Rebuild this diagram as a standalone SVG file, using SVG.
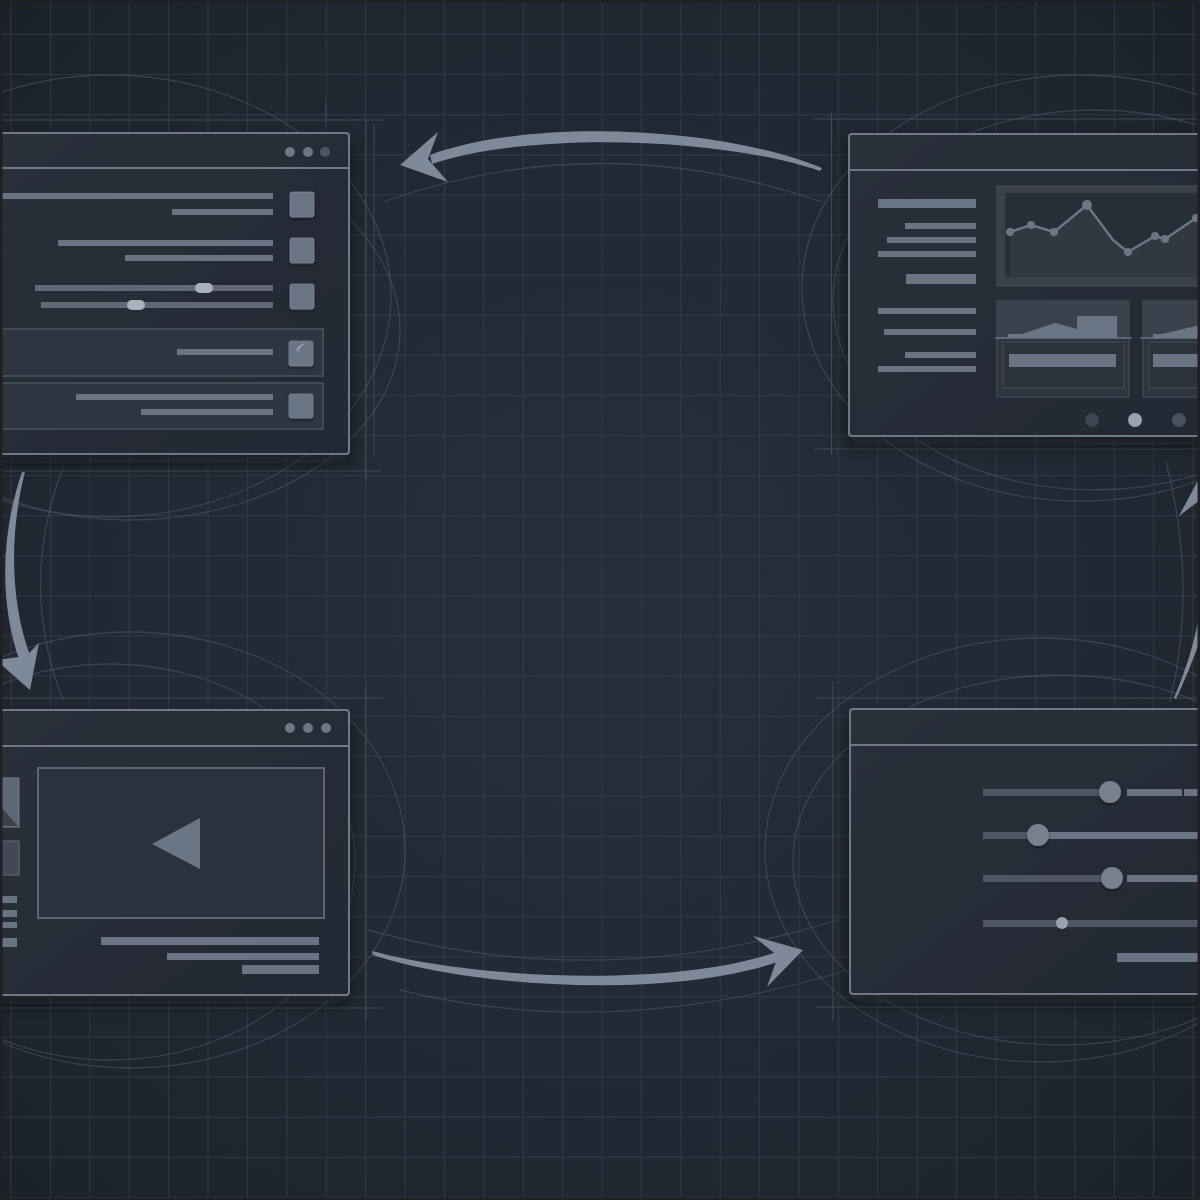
<svg xmlns="http://www.w3.org/2000/svg" width="1200" height="1200" viewBox="0 0 1200 1200">
<defs>
<radialGradient id="bg" cx="0.5" cy="0.5" r="0.75">
<stop offset="0" stop-color="#272e3a"/>
<stop offset="0.6" stop-color="#222833"/>
<stop offset="1" stop-color="#1a1f28"/>
</radialGradient>
<pattern id="grid" patternUnits="userSpaceOnUse" x="10.5" y="34" width="39.4" height="40.1">
<path d="M0 0.5H39.4M0.5 0V40.1" stroke="#3a4453" stroke-width="1" fill="none" opacity="0.65"/>
</pattern>
<linearGradient id="panelFill" x1="0" y1="0" x2="1" y2="1">
<stop offset="0" stop-color="#2a303b"/>
<stop offset="1" stop-color="#232934"/>
</linearGradient>
<filter id="shadow" x="-20%" y="-20%" width="140%" height="150%">
<feDropShadow dx="0" dy="8" stdDeviation="9" flood-color="#0b0e13" flood-opacity="0.6"/>
</filter>
<filter id="small" x="-30%" y="-30%" width="160%" height="170%">
<feDropShadow dx="0" dy="1.5" stdDeviation="1.2" flood-color="#0b0e13" flood-opacity="0.6"/>
</filter>
<style>
.panel{fill:url(#panelFill);stroke:#6e7888;stroke-width:2}
.sep{stroke:#6e7888;stroke-width:2}
.bar{fill:#687383}
.dbar{fill:#4f5766}
.sq{fill:#6a7585;stroke:#7a8494;stroke-width:0.8}
.row{fill:#2e3541;stroke:#4b5362;stroke-width:1.5}
.knob{fill:#a9b1bd}
.guide{stroke:#4a5363;stroke-width:1;fill:none;opacity:0.8}
.faint{stroke:#4e5767;stroke-width:1.3;fill:none;opacity:0.55}
.arrow{fill:#7e8999}
.dot{fill:#6b7585}
</style>
</defs>

<g id="background">
<rect width="1200" height="1200" fill="url(#bg)"/>
<rect width="1200" height="1200" fill="url(#grid)"/>
</g>

<g id="decoration">
<ellipse class="faint" cx="110" cy="296" rx="281" ry="221"/>
<ellipse class="faint" cx="130" cy="330" rx="270" ry="190" opacity="0.3"/>
<path class="faint" d="M63 467 Q18 585 63 700" opacity="0.45"/>
<ellipse class="faint" cx="1080" cy="288" rx="278" ry="213"/>
<ellipse class="faint" cx="1095" cy="300" rx="262" ry="190" opacity="0.3"/>
<path class="faint" d="M1166 462 Q1198 585 1170 702" opacity="0.45"/>
<ellipse class="faint" cx="130" cy="850" rx="275" ry="218"/>
<ellipse class="faint" cx="110" cy="862" rx="245" ry="198" opacity="0.4"/>
<ellipse class="faint" cx="1040" cy="850" rx="275" ry="212"/>
<ellipse class="faint" cx="1060" cy="860" rx="267" ry="185" opacity="0.45"/>
<path class="faint" d="M383 202 Q600 125 822 202"/>
<path class="faint" d="M368 930 Q600 995 837 920"/>
<path class="faint" d="M400 990 Q620 1045 870 963" opacity="0.35"/>
<path class="guide" d="M0 120H384M366 120V482M374 124V455M0 471H381M326 103V124"/>
<path class="guide" d="M814 119H1200M831.5 113V455M814 449H1200"/>
<path class="guide" d="M0 698H383M0 1008H383M366 685V1021"/>
<path class="guide" d="M816 698H1200M816 1007H1200M833 682V1021"/>
</g>

<g id="connectors">
<g id="arrow-top">
<path class="arrow" d="M822 168 C720 126 530 118 430 155 L432 164 C530 131 720 137 820 171 Z"/>
<path class="arrow" d="M400 165 L438 132 L428 159 L448 182 Z"/>
</g>
<g id="arrow-left">
<path class="arrow" d="M22 472 C2 530 -2 600 20 662 L31 658 C9 600 10 530 25 472 Z"/>
<path class="arrow" d="M30 690 L-4 660 L26 656 L39 643 Z"/>
</g>
<g id="arrow-bottom">
<path class="arrow" d="M372 951 C480 980 680 988 782 950 L786 959 C680 999 480 990 373 955 Z"/>
<path class="arrow" d="M803 950 L753 936 L778 956 L767 987 Z"/>
</g>
<g id="arrow-right">
<path class="arrow" d="M1174 698 C1190 660 1198 630 1203 590 L1212 592 C1205 632 1192 664 1176 699 Z"/>
<path class="arrow" d="M1210 458 L1179 516 L1200 500 L1225 505 Z"/>
</g>
</g>

<g id="node-settings" filter="url(#shadow)">
<rect class="panel" x="-10" y="133" width="359" height="321" rx="3"/>
<line class="sep" x1="-10" y1="168" x2="348" y2="168"/>
<circle class="dot" cx="290" cy="152" r="5"/>
<circle class="dot" cx="308" cy="152" r="5"/>
<circle cx="325" cy="152" r="5" fill="#4e5665"/>
<rect class="bar" x="0" y="193" width="273" height="6"/>
<rect class="bar" x="172" y="209" width="101" height="6"/>
<rect class="sq" x="290" y="192" width="24" height="25" rx="2" filter="url(#small)"/>
<rect class="bar" x="58" y="240" width="215" height="6"/>
<rect class="bar" x="125" y="255" width="148" height="6"/>
<rect class="sq" x="290" y="238" width="24" height="25" rx="2" filter="url(#small)"/>
<rect class="bar" x="35" y="285" width="238" height="6" opacity="0.85"/>
<rect class="knob" x="195" y="283" width="18" height="10" rx="5"/>
<rect class="bar" x="41" y="302" width="232" height="6" opacity="0.85"/>
<rect class="knob" x="127" y="300" width="18" height="10" rx="5"/>
<rect class="sq" x="290" y="284" width="24" height="25" rx="2" filter="url(#small)"/>
<rect class="row" x="-10" y="329" width="333" height="47"/>
<rect class="bar" x="177" y="349" width="96" height="6"/>
<rect class="sq" x="289" y="341" width="24" height="25" rx="2" filter="url(#small)" fill="#5d6878"/>
<path d="M296 350 Q299 344 306 343 Q300 347 298 352 Z" fill="#a9b1bd" opacity="0.7"/>
<rect class="row" x="-10" y="383" width="333" height="46"/>
<rect class="bar" x="76" y="394" width="197" height="6"/>
<rect class="bar" x="141" y="409" width="132" height="6"/>
<rect class="sq" x="289" y="394" width="24" height="24" rx="2" filter="url(#small)"/>
</g>

<g id="node-dashboard" filter="url(#shadow)">
<rect class="panel" x="849" y="134" width="370" height="302" rx="3"/>
<line class="sep" x1="850" y1="170" x2="1200" y2="170"/>
<rect class="bar" x="878" y="199" width="98" height="9"/>
<rect class="bar" x="905" y="223" width="71" height="6"/>
<rect class="bar" x="887" y="237" width="89" height="6"/>
<rect class="bar" x="878" y="251" width="98" height="6"/>
<rect class="bar" x="906" y="274" width="70" height="10"/>
<rect class="bar" x="878" y="308" width="98" height="6"/>
<rect class="bar" x="884" y="329" width="92" height="6"/>
<rect class="bar" x="905" y="352" width="71" height="6"/>
<rect class="bar" x="878" y="366" width="98" height="6"/>
<rect x="997" y="186" width="230" height="100" fill="#3a414c" stroke="#454c58" stroke-width="1"/>
<rect x="1005" y="193" width="220" height="84" fill="#282e39" stroke="#343b47" stroke-width="1"/>
<path d="M1010 232 L1031 225 L1054 232 L1087 205 L1113 240 L1128 252 L1155 236 L1165 239 L1196 218 L1210 212 V277 H1010 Z" fill="#323946" opacity="0.8"/>
<polyline points="1010,232 1031,225 1054,232 1087,205 1113,240 1128,252 1155,236 1165,239 1196,218 1210,212" fill="none" stroke="#6b7585" stroke-width="2.5" stroke-linejoin="round"/>
<g fill="#6b7585">
<circle cx="1010" cy="232" r="4"/>
<circle cx="1031" cy="225" r="4"/>
<circle cx="1054" cy="232" r="4"/>
<circle cx="1087" cy="205" r="5"/>
<circle cx="1128" cy="252" r="4"/>
<circle cx="1155" cy="236" r="4"/>
<circle cx="1165" cy="239" r="4"/>
<circle cx="1196" cy="218" r="4"/>
</g>
<rect x="997" y="301" width="132" height="96" fill="#2f3541" stroke="#454c58" stroke-width="1.2"/>
<rect x="997" y="301" width="132" height="37" fill="#3b424e"/>
<path d="M1008 338 V334 H1022 L1055 323 L1077 329 V316 H1117 V338 Z" fill="#6b7686"/>
<line x1="995" y1="338" x2="1132" y2="338" stroke="#6b7585" stroke-width="1.5"/>
<rect x="1003" y="342" width="121" height="46" fill="#2a303b" stroke="#3d4450" stroke-width="1.5"/>
<rect class="bar" x="1009" y="354" width="107" height="13"/>
<rect x="1143" y="301" width="90" height="96" fill="#2f3541" stroke="#454c58" stroke-width="1.2"/>
<rect x="1143" y="301" width="90" height="37" fill="#3b424e"/>
<path d="M1153 338 V334 H1162 L1200 325 V338 Z" fill="#6b7686"/>
<line x1="1140" y1="338" x2="1200" y2="338" stroke="#6b7585" stroke-width="1.5"/>
<rect x="1149" y="342" width="80" height="46" fill="#2a303b" stroke="#3d4450" stroke-width="1.5"/>
<rect class="bar" x="1153" y="354" width="60" height="13"/>
<circle cx="1092" cy="420" r="7" fill="#3d4451"/>
<circle cx="1135" cy="420" r="7" fill="#9aa3ae"/>
<circle cx="1179" cy="420" r="7" fill="#4a515d"/>
</g>

<g id="node-video" filter="url(#shadow)">
<rect class="panel" x="-10" y="710" width="359" height="285" rx="3"/>
<line class="sep" x1="-10" y1="746" x2="348" y2="746"/>
<circle class="dot" cx="290" cy="728" r="5"/>
<circle class="dot" cx="308" cy="728" r="5"/>
<circle class="dot" cx="326" cy="728" r="5"/>
<rect x="38" y="768" width="286" height="150" fill="#2c323e" stroke="#5c6574" stroke-width="2"/>
<path d="M152 844 L200 818 L200 869 Z" fill="#6b7686"/>
<rect x="-10" y="778" width="29" height="49" fill="#5d6777" stroke="#6b7585" stroke-width="1.2"/>
<path d="M0 806 L18 826 H0 Z" fill="#3a414c"/>
<rect x="-10" y="841" width="29" height="34" fill="#414855" stroke="#5c6574" stroke-width="1.2"/>
<rect class="bar" x="0" y="896" width="17" height="7"/>
<rect class="bar" x="0" y="910" width="17" height="7"/>
<rect class="bar" x="0" y="922" width="17" height="6"/>
<rect class="bar" x="0" y="938" width="17" height="9"/>
<rect class="bar" x="101" y="937" width="218" height="8"/>
<rect class="bar" x="167" y="953" width="152" height="7"/>
<rect class="bar" x="242" y="965" width="77" height="9"/>
</g>

<g id="node-sliders" filter="url(#shadow)">
<rect class="panel" x="850" y="709" width="370" height="285" rx="3"/>
<line class="sep" x1="851" y1="745" x2="1200" y2="745"/>
<rect class="dbar" x="983" y="789" width="120" height="7"/>
<rect class="bar" x="1127" y="789" width="55" height="7"/>
<rect class="bar" x="1184" y="789" width="30" height="7"/>
<circle cx="1110" cy="792" r="11" fill="#77818f" filter="url(#small)"/>
<rect class="dbar" x="983" y="832" width="50" height="7"/>
<rect class="bar" x="1045" y="832" width="170" height="7"/>
<circle cx="1038" cy="835" r="11" fill="#77818f" filter="url(#small)"/>
<rect class="dbar" x="983" y="875" width="122" height="7"/>
<rect class="bar" x="1127" y="875" width="90" height="7"/>
<circle cx="1112" cy="878" r="11" fill="#77818f" filter="url(#small)"/>
<rect class="dbar" x="983" y="920" width="230" height="7"/>
<circle cx="1062" cy="923" r="6" fill="#9aa3ae"/>
<rect class="bar" x="1117" y="953" width="100" height="9"/>
</g>

<rect x="1" y="1" width="1198" height="1198" fill="none" stroke="#201f22" stroke-width="3"/>
</svg>
